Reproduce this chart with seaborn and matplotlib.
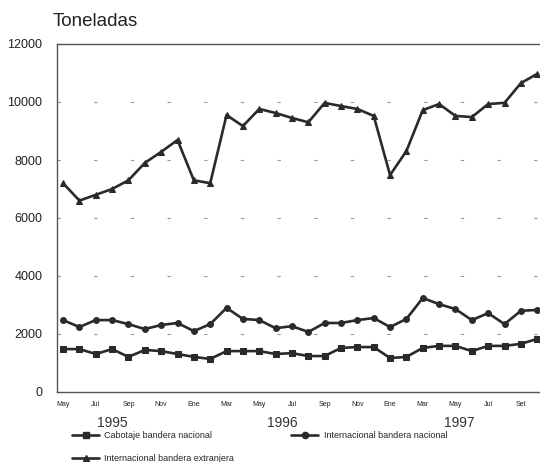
import numpy as np
import pandas as pd
import matplotlib
matplotlib.use("Agg")
import matplotlib.pyplot as plt
import seaborn as sns
from matplotlib.lines import Line2D

sns.set_theme(style="white")
plt.rcParams['font.family'] = ['Liberation Sans', 'DejaVu Sans']

months = ["May", "Jun", "Jul", "Ago", "Sep", "Oct", "Nov", "Dic",
          "Ene", "Feb", "Mar", "Abr", "May", "Jun", "Jul", "Ago", "Sep", "Oct", "Nov", "Dic",
          "Ene", "Feb", "Mar", "Abr", "May", "Jun", "Jul", "Ago", "Set", "Oct"]

cabotaje = [1480, 1480, 1310, 1480, 1210, 1450, 1410, 1310, 1210, 1140,
            1410, 1410, 1410, 1310, 1340, 1240, 1240, 1520, 1550, 1550,
            1170, 1210, 1520, 1590, 1590, 1410, 1590, 1590, 1660, 1830]

int_nacional = [2480, 2240, 2480, 2480, 2340, 2170, 2310, 2380, 2100, 2340,
                2900, 2520, 2480, 2200, 2270, 2070, 2380, 2380, 2480, 2550,
                2240, 2520, 3240, 3030, 2860, 2480, 2720, 2340, 2800, 2830]

int_extranjera = [7200, 6600, 6800, 7000, 7300, 7900, 8280, 8690, 7300, 7200,
                  9550, 9170, 9760, 9620, 9450, 9300, 9970, 9860, 9760, 9520,
                  7480, 8310, 9720, 9930, 9520, 9480, 9930, 9970, 10650, 10970]

series_names = ["Cabotaje bandera nacional",
                "Internacional bandera nacional",
                "Internacional bandera extranjera"]
year_labels = ["1995", "1996", "1997"]
y_ticks = [0, 2000, 4000, 6000, 8000, 10000, 12000]

idx = np.arange(len(months))
df = pd.DataFrame({
    "mes": np.tile(idx, 3),
    "valor": cabotaje + int_nacional + int_extranjera,
    "serie": np.repeat(series_names, len(months)),
})

W, H = 540, 462
fig = plt.figure(figsize=(W / 100, H / 100), dpi=100)
ax = fig.add_axes([57 / W, 1 - 392 / H, 1 - 57 / W, (392 - 44) / H])

col = "#2a2a2a"
markers = {series_names[0]: "s", series_names[1]: "o", series_names[2]: "^"}
sns.lineplot(data=df, x="mes", y="valor", hue="serie", style="serie",
             markers=markers, dashes=False, palette=[col, col, col],
             linewidth=1.9, markersize=4.2, markeredgecolor=col, ax=ax, legend=False)

ax.set_xlim(-0.37, 29.17)
ax.set_ylim(0, 12000)
ax.set_yticks(y_ticks)
ax.set_yticklabels([str(v) for v in y_ticks], fontsize=9, color="#222222")
ax.set_yticks(np.arange(1000, 12000, 2000), minor=True)
ax.set_xticks(idx)
ax.set_xticklabels([m if i % 2 == 0 else "" for i, m in enumerate(months)],
                   fontsize=5, color="#222222")
ax.tick_params(axis="x", direction="inout", length=7, width=0.8, color=col, pad=3)
ax.tick_params(axis="y", which="both", direction="inout", length=5, width=0.8, color=col, pad=8)
ax.set_xlabel("")
ax.set_ylabel("")
for g in [2000, 4000, 6000, 8000, 10000]:
    ax.axhline(g, color="#999999", lw=0.8, ls=(0, (3, 30)), zorder=0)
ax.spines["right"].set_visible(False)
for s in ["left", "bottom", "top"]:
    ax.spines[s].set_color("#555555")
    ax.spines[s].set_linewidth(1.0)

fig.text(53 / W, 1 - 22 / H, "Toneladas", fontsize=13.5, va="center", ha="left", color="#222222")
for xp, t in zip([112, 282, 459], year_labels):
    fig.text(xp / W, 1 - 423 / H, t, fontsize=10, ha="center", va="center", color="#333333")

h = {n: Line2D([], [], color=col, lw=1.9, marker=markers[n], markersize=4.5) for n in series_names}
left_items = [series_names[0], series_names[2]]
leg1 = fig.legend([h[n] for n in left_items], left_items, loc="upper left",
                  bbox_to_anchor=(72 / W, 1 - 431 / H), frameon=False, fontsize=6.5,
                  handlelength=3.0, labelspacing=1.6, handletextpad=0.6,
                  borderaxespad=0, borderpad=0)
fig.legend([h[series_names[1]]], [series_names[1]], loc="upper left",
           bbox_to_anchor=(291 / W, 1 - 431 / H), frameon=False, fontsize=6.5,
           handlelength=3.0, handletextpad=0.6, borderaxespad=0, borderpad=0)

fig.savefig("out.png", dpi=100, facecolor="white")
